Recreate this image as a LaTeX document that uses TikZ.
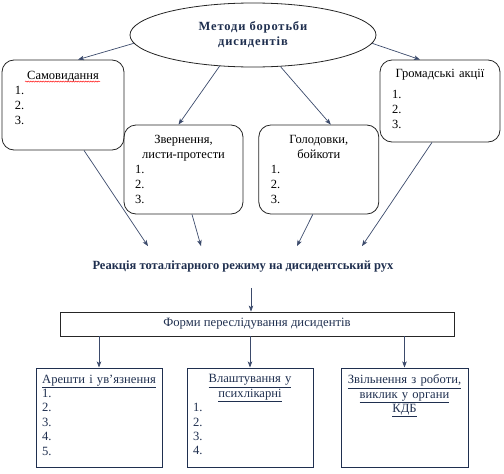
\documentclass[tikz,border=0pt]{standalone}
\usepackage{fontspec}
\setmainfont{Liberation Serif}
\newfontfamily\widebold[LetterSpace=7]{Liberation Serif}
\usepackage{xcolor}
\usetikzlibrary{shapes.geometric, arrows.meta, positioning, decorations.pathmorphing}
\definecolor{ink}{HTML}{1F2F4F}
\definecolor{wire}{HTML}{3B4A6B}
\definecolor{frame}{HTML}{262626}
\tikzset{
  method/.style={ellipse, draw=frame, line width=0.8pt, minimum width=246pt, minimum height=64pt, text centered, align=center, font=\widebold\bfseries\fontsize{12.5}{15}\selectfont, text=ink},
  toolbox/.style={rectangle, rounded corners=12pt, draw=frame, line width=0.8pt},
  toolitems/.style={align=left, inner sep=0pt, font=\fontsize{12.5}{15}\selectfont, text=black},
  reaction/.style={inner xsep=2pt, inner ysep=15pt, font=\bfseries\fontsize{12.5}{14}\selectfont, text=ink},
  formbox/.style={rectangle, draw=frame, line width=0.8pt, minimum width=394pt, minimum height=24pt, font=\fontsize{12.7}{15}\selectfont, text=ink},
  repbox/.style={rectangle, draw=ink, line width=1pt, minimum width=126pt, minimum height=99pt},
  repitems/.style={align=left, inner sep=0pt, text width=114pt, font=\fontsize{12.6}{14.4}\selectfont, text=ink},
  arrow/.style={line width=0.7pt, draw=wire, -{Stealth[length=6pt,width=4.5pt,inset=1.5pt]}},
  spell/.style={draw=red, line width=0.4pt, decorate, decoration={snake, amplitude=0.6pt, segment length=2.5pt}}
}
\newcommand{\ctr}[1]{\makebox[\linewidth]{#1}}

\begin{document}
\begin{tikzpicture}[x=1pt, y=-1pt]
\useasboundingbox (0,0) rectangle (504,474);

% methods of struggle
\node[method] (methods) at (253,35) {Методи боротьби\\дисидентів};

\node[toolbox, minimum width=122pt, minimum height=90pt] (samvyd) at (63,105) {};
\node[toolbox, minimum width=120pt, minimum height=82pt] (hromad) at (440,101) {};
\node[toolbox, minimum width=119pt, minimum height=89pt] (zvern) at (183.5,169.5) {};
\node[toolbox, minimum width=120pt, minimum height=89pt, right=15pt of zvern] (golod) {};

\node[toolitems, text width=96pt, below=11pt of samvyd.north] (samvydTxt) {\ctr{Самовидання}\\1.\\2.\\3.};
\node[toolitems, text width=96pt, below=9.5pt of hromad.north] (hromadTxt) {\ctr{Громадські акції}\\[6pt]1.\\2.\\3.};
\node[toolitems, text width=97pt, below=10pt of zvern.north] (zvernTxt) {\ctr{Звернення,}\\\ctr{листи-протести}\\1.\\2.\\3.};
\node[toolitems, text width=96pt, below=10.5pt of golod.north] (golodTxt) {\ctr{Голодовки,}\\\ctr{бойкоти}\\1.\\2.\\3.};
\draw[spell] ([xshift=-38pt,yshift=-11pt]samvydTxt.north) -- ++(75,0);

\draw[arrow] (methods.184) -- ([xshift=15pt]samvyd.north);
\draw[arrow] (methods.223) -- ([xshift=-5pt]zvern.north);
\draw[arrow] (methods.311) -- ([xshift=12pt]golod.north);
\draw[arrow] (methods.356) -- ([xshift=-20pt]hromad.north);

% reaction of the regime
\node[reaction] (react) at (243,267) {Реакція тоталітарного режиму на дисидентський рух};

\draw[arrow] ([xshift=21pt]samvyd.south) -- ([xshift=-95pt]react.north);
\draw[arrow] ([xshift=8.5pt]zvern.south) -- ([xshift=-42pt]react.north);
\draw[arrow] ([xshift=-6pt]golod.south) -- ([xshift=54pt]react.north);
\draw[arrow] ([xshift=-8pt]hromad.south) -- ([xshift=119pt]react.north);

\node[formbox] (forms) at (257,324) {Форми переслідування дисидентів};
\coordinate (down) at ([xshift=8pt]react.south);
\draw[arrow] (down) -- (down |- forms.north);

% forms of persecution
\node[repbox] (arrest) at (99,417.5) {};
\node[repbox, right=24pt of arrest] (psych) {};
\node[repbox, minimum width=127pt, right=27pt of psych] (fired) {};

\node[repitems, below=7pt of arrest.north] (arrestTxt) {\ctr{\underline{Арешти і ув’язнення}}\\1.\\2.\\3.\\4.\\5.};
\node[repitems, below=7pt of psych.north] (psychTxt) {\ctr{\underline{Влаштування у}}\\\ctr{\underline{психлікарні}}\\1.\\2.\\3.\\4.};
\node[repitems, below=7pt of fired.north] (firedTxt) {\ctr{\underline{Звільнення з роботи,}}\\\ctr{\underline{виклик у органи}}\\\ctr{\underline{КДБ}}};

\foreach \n in {arrest,psych,fired}
  \draw[arrow] (\n.north |- forms.south) -- (\n.north);
\end{tikzpicture}
\end{document}
